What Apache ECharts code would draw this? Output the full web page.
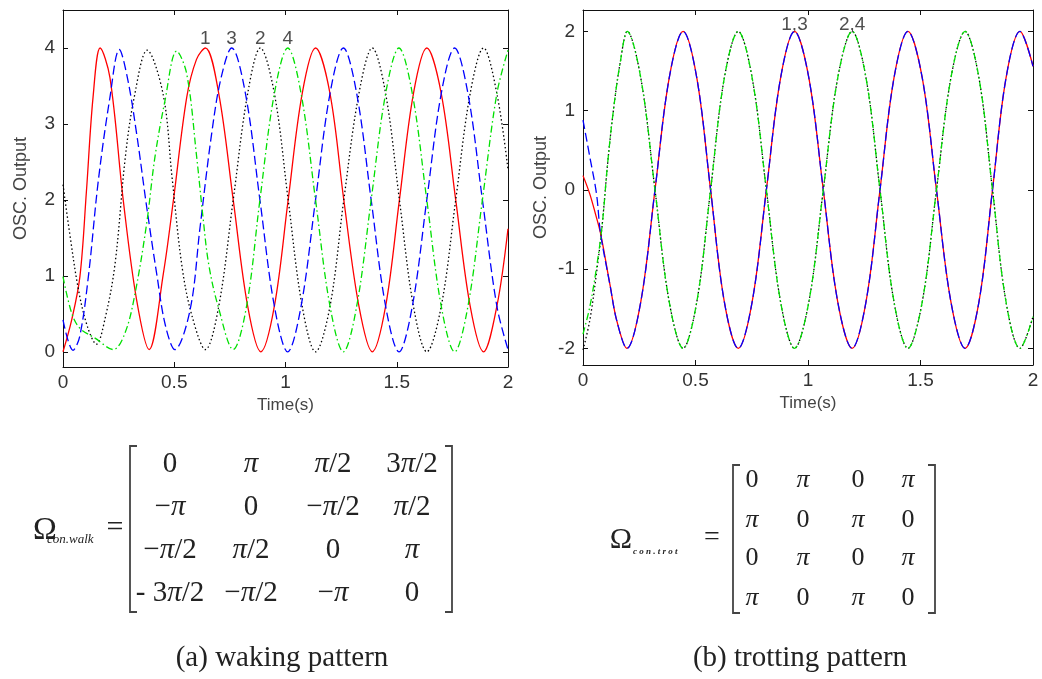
<!DOCTYPE html>
<html>
<head>
<meta charset="utf-8">
<script src="https://cdn.jsdelivr.net/npm/echarts@6/dist/echarts.min.js"></script>
<style>
  html, body { margin: 0; padding: 0; background: #fff; }
  #chart { width: 1042px; height: 679px; }
</style>
</head>
<body>
<div id="chart"></div>
<script>
// tick labels
const timeTicks = [0, 0.5, 1, 1.5, 2];
const walkTicks = [0, 1, 2, 3, 4];
const trotTicks = [-2, -1, 0, 1, 2];

// (a) walking: oscillator outputs, [time s, value]
const walkLeg1 = [[0,0],[0.039,0.42],[0.076,0.99],[0.105,2.1],[0.135,3.35],[0.167,4],[0.211,3.61],[0.271,1.99],[0.331,0.68],[0.387,0.03],[0.451,1.03],[0.496,1.99],[0.556,3.35],[0.6,3.85],[0.64,4],[0.7,3.4],[0.765,2],[0.83,0.6],[0.889,0],[0.95,0.6],[1.012,2],[1.075,3.4],[1.135,4],[1.2,3.4],[1.262,2],[1.33,0.6],[1.39,0],[1.45,0.6],[1.512,2],[1.575,3.4],[1.635,4],[1.7,3.4],[1.765,2],[1.83,0.6],[1.89,0],[1.95,0.6],[2,1.62]];
const walkLeg2 = [[0,2.2],[0.03,1.56],[0.07,0.81],[0.11,0.33],[0.15,0.1],[0.19,0.45],[0.234,1.16],[0.28,2.56],[0.32,3.35],[0.378,3.97],[0.45,3.39],[0.49,2.3],[0.535,1.12],[0.58,0.47],[0.64,0.03],[0.7,0.6],[0.765,2],[0.83,3.4],[0.887,4],[0.95,3.4],[1.012,2],[1.075,0.6],[1.135,0],[1.2,0.6],[1.262,2],[1.33,3.4],[1.39,4],[1.45,3.4],[1.512,2],[1.575,0.6],[1.635,0],[1.7,0.6],[1.765,2],[1.83,3.4],[1.89,4],[1.95,3.4],[2,2.4]];
const walkLeg3 = [[0,0.42],[0.045,0.02],[0.075,0.2],[0.114,0.99],[0.159,2.26],[0.211,3.35],[0.253,3.98],[0.29,3.6],[0.331,2.87],[0.376,1.91],[0.421,1.03],[0.46,0.35],[0.503,0.03],[0.571,0.55],[0.616,1.64],[0.668,2.87],[0.71,3.6],[0.758,4],[0.82,3.4],[0.885,2],[0.95,0.6],[1.01,0],[1.07,0.6],[1.135,2],[1.2,3.4],[1.26,4],[1.32,3.4],[1.385,2],[1.45,0.6],[1.51,0],[1.57,0.6],[1.635,2],[1.7,3.4],[1.76,4],[1.82,3.4],[1.885,2],[1.95,0.6],[2,0.03]];
const walkLeg4 = [[0,0.99],[0.039,0.51],[0.076,0.31],[0.144,0.18],[0.226,0.03],[0.279,0.25],[0.324,0.77],[0.376,1.69],[0.413,2.56],[0.458,3.3],[0.511,3.96],[0.556,3.66],[0.601,2.56],[0.63,1.75],[0.655,1.15],[0.698,0.59],[0.765,0.03],[0.825,0.6],[0.885,2],[0.95,3.4],[1.01,4],[1.07,3.4],[1.135,2],[1.2,0.6],[1.26,0],[1.32,0.6],[1.385,2],[1.45,3.4],[1.51,4],[1.57,3.4],[1.635,2],[1.7,0.6],[1.76,0],[1.82,0.6],[1.885,2],[1.95,3.4],[2,3.97]];

// (b) trotting
const trotLeg1 = [[0,0.18],[0.03,-0.05],[0.055,-0.3],[0.078,-0.55],[0.12,-1.2],[0.15,-1.65],[0.195,-2],[0.257,-1.41],[0.32,0],[0.383,1.41],[0.445,2],[0.506,1.41],[0.567,0],[0.628,-1.41],[0.69,-2],[0.752,-1.41],[0.815,0],[0.878,1.41],[0.94,2],[1.004,1.41],[1.068,0],[1.132,-1.41],[1.196,-2],[1.258,-1.41],[1.32,0],[1.382,1.41],[1.444,2],[1.508,1.41],[1.571,0],[1.635,-1.41],[1.698,-2],[1.76,-1.41],[1.82,0],[1.88,1.41],[1.942,2],[2,1.56]];
const trotLeg3 = [[0,0.88],[0.03,0.42],[0.06,-0.05],[0.078,-0.55],[0.12,-1.2],[0.15,-1.65],[0.195,-2],[0.257,-1.41],[0.32,0],[0.383,1.41],[0.445,2],[0.506,1.41],[0.567,0],[0.628,-1.41],[0.69,-2],[0.752,-1.41],[0.815,0],[0.878,1.41],[0.94,2],[1.004,1.41],[1.068,0],[1.132,-1.41],[1.196,-2],[1.258,-1.41],[1.32,0],[1.382,1.41],[1.444,2],[1.508,1.41],[1.571,0],[1.635,-1.41],[1.698,-2],[1.76,-1.41],[1.82,0],[1.88,1.41],[1.942,2],[2,1.56]];
const trotLeg2 = [[0,-2.02],[0.03,-1.65],[0.06,-1.05],[0.085,-0.45],[0.11,0.35],[0.135,1.0],[0.165,1.6],[0.197,2],[0.257,1.41],[0.32,0],[0.383,-1.41],[0.445,-2],[0.506,-1.41],[0.567,0],[0.628,1.41],[0.69,2],[0.752,1.41],[0.815,0],[0.878,-1.41],[0.94,-2],[1.004,-1.41],[1.068,0],[1.132,1.41],[1.196,2],[1.258,1.41],[1.32,0],[1.382,-1.41],[1.444,-2],[1.508,-1.41],[1.571,0],[1.635,1.41],[1.698,2],[1.76,1.41],[1.82,0],[1.88,-1.41],[1.942,-2],[2,-1.6]];
const trotLeg4 = [[0,-1.82],[0.03,-1.48],[0.06,-0.98],[0.085,-0.45],[0.11,0.35],[0.135,1.0],[0.165,1.6],[0.197,2],[0.257,1.41],[0.32,0],[0.383,-1.41],[0.445,-2],[0.506,-1.41],[0.567,0],[0.628,1.41],[0.69,2],[0.752,1.41],[0.815,0],[0.878,-1.41],[0.94,-2],[1.004,-1.41],[1.068,0],[1.132,1.41],[1.196,2],[1.258,1.41],[1.32,0],[1.382,-1.41],[1.444,-2],[1.508,-1.41],[1.571,0],[1.635,1.41],[1.698,2],[1.76,1.41],[1.82,0],[1.88,-1.41],[1.942,-2],[2,-1.6]];

// leg tags above the peaks
const walkTags = ['1', '3', '2', '4'];
const walkTagTimes = [0.64, 0.758, 0.887, 1.01];
const walkTagLevel = 4;
const trotTags = ['1,3', '2,4'];
const trotTagTimes = [0.94, 1.196];
const trotTagLevel = 2;

// phase matrices
const walkMatrix = [
  ['0', 'π', 'π/2', '3π/2'],
  ['−π', '0', '−π/2', 'π/2'],
  ['−π/2', 'π/2', '0', 'π'],
  ['- 3π/2', '−π/2', '−π', '0']
];
const trotMatrix = [
  ['0', 'π', '0', 'π'],
  ['π', '0', 'π', '0'],
  ['0', 'π', '0', 'π'],
  ['π', '0', 'π', '0']
];

const sans = 'Liberation Sans';
const chart = echarts.init(document.getElementById('chart'));

const xAxisFor = (grid, pos) => ({
  type: 'value', gridIndex: grid, position: pos, min: 0, max: 2,
  axisLine: { show: true, onZero: false, lineStyle: { color: '#111', width: 1 } },
  axisTick: { show: true, inside: true, length: 5, customValues: timeTicks, lineStyle: { color: '#111' } },
  axisLabel: {
    show: pos === 'bottom', customValues: timeTicks, margin: 6,
    fontFamily: sans, fontSize: 19, color: '#333'
  },
  splitLine: { show: false },
  name: pos === 'bottom' ? 'Time(s)' : '',
  nameLocation: 'middle', nameGap: 15,
  nameTextStyle: { fontFamily: sans, fontSize: 17, color: '#444' }
});

const yAxisFor = (grid, pos, min, max, ticks) => ({
  type: 'value', gridIndex: grid, position: pos, min, max,
  axisLine: { show: true, onZero: false, lineStyle: { color: '#111', width: 1 } },
  axisTick: { show: true, inside: true, length: 5, customValues: ticks, lineStyle: { color: '#111' } },
  axisLabel: {
    show: pos === 'left', customValues: ticks, margin: 8,
    fontFamily: sans, fontSize: 19, color: '#333'
  },
  splitLine: { show: false },
  name: pos === 'left' ? 'OSC. Output' : '',
  nameLocation: 'middle', nameGap: 33,
  nameTextStyle: { fontFamily: sans, fontSize: 18, color: '#444' }
});

const leg = (data, xi, yi, color, type) => ({
  type: 'line', xAxisIndex: xi, yAxisIndex: yi, data,
  showSymbol: false, smooth: 0.35, silent: true,
  lineStyle: { color, width: 1.3, type }
});

const tags = (names, times, level, xi, yi, offset) => ({
  type: 'scatter', xAxisIndex: xi, yAxisIndex: yi, silent: true,
  symbolSize: 1, itemStyle: { color: 'transparent' },
  data: times.map((t, i) => [t, level, names[i]]),
  label: {
    show: true, position: 'inside', offset,
    formatter: p => p.data[2],
    fontFamily: sans, fontSize: 19, color: '#222'
  }
});

const dashed = [9, 4];
const dotted = [1.5, 2.5];
const dashDot = [7, 3, 1.5, 3];

// matrix text and brackets
const graphics = [];
const matrixText = (rows, cols, rowsY, size) => {
  rows.forEach((row, r) => row.forEach((cell, c) => {
    graphics.push({
      type: 'text', x: cols[c], y: rowsY[r],
      style: {
        text: cell.replace(/π/g, '{p|π}'),
        font: size + 'px "Liberation Serif"',
        rich: { p: { font: 'italic ' + size + 'px "Liberation Serif"', fill: '#222' } },
        fill: '#222', align: 'center', verticalAlign: 'middle'
      }
    });
  }));
};
const bracket = (x, top, bottom, dir) => graphics.push({
  type: 'polyline',
  shape: { points: [[x + 7 * dir, top], [x, top], [x, bottom], [x + 7 * dir, bottom]] },
  style: { stroke: '#444', lineWidth: 1.8, fill: null }
});
const text = (x, y, str, font, align) => graphics.push({
  type: 'text', x, y,
  style: { text: str, font, fill: '#222', align: align || 'center', verticalAlign: 'middle' }
});

matrixText(walkMatrix, [170, 251, 333, 412], [464, 507, 550, 593], 29);
bracket(130, 446, 612, 1);
bracket(452, 446, 612, -1);
text(45, 531, 'Ω', '32px "Liberation Serif"');
text(47, 540, 'con.walk', 'italic 13px "Liberation Serif"', 'left');
text(115, 528, '=', '30px "Liberation Serif"');
text(282, 658, '(a) waking pattern', '29px "Liberation Serif"');

matrixText(trotMatrix, [752, 803, 858, 908], [480, 520, 558, 598], 26);
bracket(733, 465, 613, 1);
bracket(935, 465, 613, -1);
text(621, 540, 'Ω', '30px "Liberation Serif"');
text(633, 552, 'c o n . t r o t', 'italic bold 9px "Liberation Serif"', 'left');
text(712, 538, '=', '28px "Liberation Serif"');
text(800, 658, '(b) trotting pattern', '29px "Liberation Serif"');

chart.setOption({
  animation: false,
  grid: [
    { left: 63, top: 10, width: 445, height: 357, outerBoundsMode: 'none' },
    { left: 583, top: 10, width: 450, height: 355, outerBoundsMode: 'none' }
  ],
  xAxis: [
    xAxisFor(0, 'bottom'), xAxisFor(0, 'top'),
    xAxisFor(1, 'bottom'), xAxisFor(1, 'top')
  ],
  yAxis: [
    yAxisFor(0, 'left', -0.2, 4.5, walkTicks), yAxisFor(0, 'right', -0.2, 4.5, walkTicks),
    yAxisFor(1, 'left', -2.21, 2.27, trotTicks), yAxisFor(1, 'right', -2.21, 2.27, trotTicks)
  ],
  series: [
    leg(walkLeg1, 0, 0, '#ff0000', 'solid'),
    leg(walkLeg2, 0, 0, '#000000', dotted),
    leg(walkLeg3, 0, 0, '#0000ff', dashed),
    leg(walkLeg4, 0, 0, '#00e000', dashDot),
    tags(walkTags, walkTagTimes, walkTagLevel, 0, 0, [0, -9]),
    leg(trotLeg1, 2, 2, '#ff0000', 'solid'),
    leg(trotLeg2, 2, 2, '#000000', dotted),
    leg(trotLeg3, 2, 2, '#0000ff', dashed),
    leg(trotLeg4, 2, 2, '#00e000', dashDot),
    tags(trotTags, trotTagTimes, trotTagLevel, 2, 2, [0, -7])
  ],
  graphic: graphics
});
</script>
</body>
</html>
